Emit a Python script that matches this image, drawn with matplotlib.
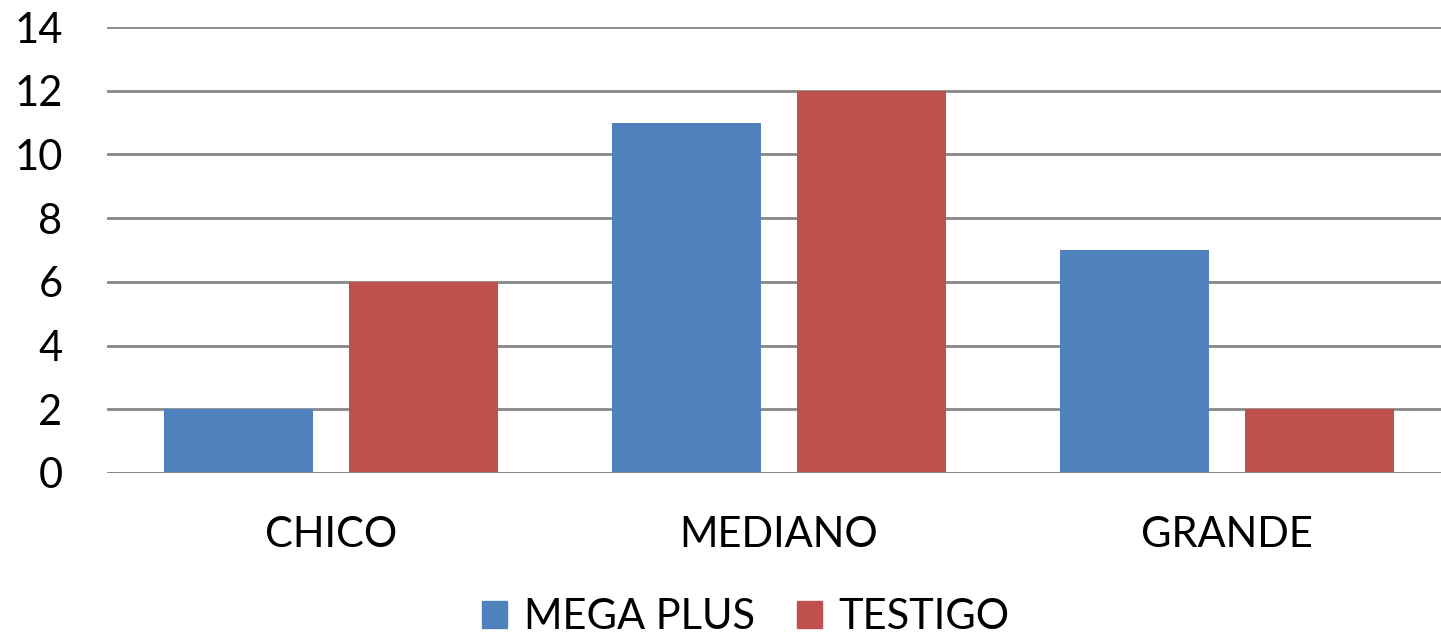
import matplotlib
matplotlib.use("Agg")
import matplotlib.pyplot as plt
import numpy as np
from matplotlib.patches import Patch

categories = ["CHICO", "MEDIANO", "GRANDE"]
series_names = ["MEGA PLUS", "TESTIGO"]
mega_plus = [2, 11, 7]
testigo = [6, 12, 2]
yticks = [0, 2, 4, 6, 8, 10, 12, 14]

plt.rcParams['font.family'] = ['Lato', 'DejaVu Sans']
W, H = 1441, 635
fig = plt.figure(figsize=(W/100, H/100), dpi=100)
left = 107 / W
bottom = 1 - 473 / H
top = 1 - 27 / H
ax = fig.add_axes([left, bottom, 1 - left, top - bottom])

x = np.arange(len(categories))
bw = 0.333
off = 0.207
ax.bar(x - off, mega_plus, bw, color="#4F81BD", zorder=3, label=series_names[0])
ax.bar(x + off, testigo, bw, color="#C0504D", zorder=3, label=series_names[1])

ax.set_xlim(-0.5, -0.5 + (W - 107) / 448)
ax.set_ylim(0, 14)
ax.set_yticks(yticks)
ax.set_yticklabels([str(v) for v in yticks])
ax.set_xticks(x)
ax.set_xticklabels(categories)
for s in ax.spines.values():
    s.set_visible(False)
ax.yaxis.grid(True, color="#888888", linewidth=2.0, zorder=0)
ax.axhline(0, color="#888888", linewidth=2.0, zorder=4)
ax.tick_params(axis='both', length=0, labelsize=30)
ax.tick_params(axis='y', pad=32)
ax.tick_params(axis='x', pad=31)

fig.legend(handles=[Patch(color="#4F81BD", label=series_names[0]),
                    Patch(color="#C0504D", label=series_names[1])],
           loc="center", bbox_to_anchor=(746 / W, 1 - 617 / H), ncol=2,
           frameon=False, fontsize=30, handlelength=0.6, handleheight=0.6,
           handletextpad=0.4, columnspacing=1.0)

fig.savefig("out.png", dpi=100)
